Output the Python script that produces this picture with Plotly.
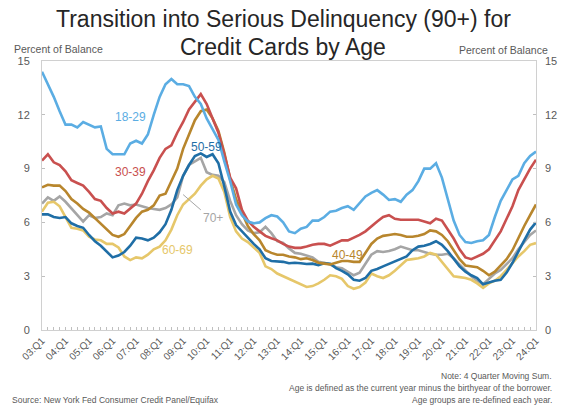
import plotly.graph_objects as go

quarters = [f"{y:02d}:Q{q}" for y in range(3, 24) for q in range(1, 5)] + ["24:Q1"]
tick_labels = [q if q.endswith("Q1") else "" for q in quarters]

age_18_29 = [14.4, 13.7, 13.0, 12.2, 11.45, 11.45, 11.3, 11.6, 11.45, 11.3,
             11.35, 10.1, 9.8, 9.8, 9.8, 10.4, 10.55, 10.4, 10.9, 12.0,
             13.0, 13.7, 14.0, 13.7, 13.7, 13.6, 13.0, 12.6, 11.8, 11.2,
             10.6, 9.4, 8.3, 7.0, 6.4, 6.05, 5.95, 6.0, 6.24, 6.4,
             6.33, 6.0, 5.5, 5.4, 5.65, 5.75, 6.1, 6.1, 6.3, 6.6,
             6.65, 6.8, 6.9, 6.7, 7.1, 7.45, 7.65, 7.8, 7.55, 7.25,
             7.3, 7.15, 7.55, 7.8, 8.3, 9.0, 9.0, 9.3, 8.5, 7.3,
             6.1, 5.3, 4.9, 4.85, 4.95, 5.0, 5.3, 6.3, 7.2, 7.8,
             8.4, 8.6, 9.3, 9.7, 9.95]
age_30_39 = [9.45, 9.8, 9.35, 9.2, 8.85, 8.35, 8.2, 8.05, 7.7, 7.3,
             7.2, 6.8, 6.5, 6.6, 6.5, 6.75, 7.05, 7.6, 8.3, 8.9,
             9.6, 10.1, 10.3, 11.0, 11.6, 12.3, 12.75, 13.15, 12.6, 11.8,
             11.0, 9.8, 8.5, 7.9, 6.7, 6.1, 5.75, 5.5, 5.25, 5.12,
             5.0, 4.8, 4.65, 4.58, 4.58, 4.65, 4.75, 4.8, 4.8, 4.7,
             4.85, 5.0, 5.0, 5.15, 5.3, 5.5, 5.8, 6.05, 6.3, 6.4,
             6.2, 6.15, 6.15, 6.15, 6.15, 6.05, 5.95, 6.2, 6.1, 5.6,
             5.1, 4.5, 4.05, 3.95, 4.1, 4.25, 4.5, 5.0, 5.5, 6.2,
             6.9, 7.8, 8.4, 9.0, 9.5]
age_40_49 = [7.95, 8.1, 8.05, 8.05, 7.75, 7.3, 7.05, 6.75, 6.55, 6.25,
             5.95, 5.65, 5.3, 5.2, 5.35, 5.8, 6.25, 6.6, 6.7, 6.95,
             7.5, 7.6, 8.3, 9.0, 10.1, 10.9, 11.7, 12.2, 12.3, 11.8,
             11.1, 9.9, 8.4, 7.3, 6.5, 5.8, 5.35, 5.0, 4.45, 4.3,
             4.2, 4.2, 4.1, 4.05, 3.95, 4.0, 3.9, 3.75, 3.7, 3.65,
             3.75, 3.85, 3.85, 3.8, 3.8, 4.3, 4.8, 5.1, 5.25, 5.3,
             5.35, 5.3, 5.2, 5.2, 5.25, 5.35, 5.55, 5.5, 5.3, 4.95,
             4.45, 3.95, 3.6, 3.55, 3.5, 3.3, 3.05, 3.25, 3.6, 3.95,
             4.45, 5.15, 5.8, 6.4, 7.0]
age_50_59 = [6.45, 6.45, 6.3, 6.25, 6.3, 5.95, 5.8, 5.7, 5.3, 4.95,
             4.7, 4.35, 4.05, 4.15, 4.35, 4.7, 5.15, 5.1, 5.0, 5.15,
             5.45, 5.9, 6.7, 7.8, 8.6, 9.2, 9.7, 9.85, 9.65, 9.8,
             9.3, 8.0, 6.6, 5.85, 5.5, 5.1, 4.8, 4.5, 4.0, 3.85,
             3.82, 3.8, 3.72, 3.75, 3.72, 3.68, 3.7, 3.62, 3.72, 3.7,
             3.45, 3.3, 3.1, 2.8, 2.75, 2.9, 3.3, 3.4, 3.55, 3.68,
             3.8, 3.95, 4.1, 4.45, 4.65, 4.7, 4.8, 4.95, 4.75, 4.4,
             4.0, 3.55, 3.25, 3.05, 2.9, 2.55, 2.65, 2.75, 2.8, 3.2,
             3.75, 4.4, 5.0, 5.6, 6.0]
age_60_69 = [6.6, 7.1, 7.15, 6.9, 6.3, 5.7, 5.65, 5.55, 5.2, 5.05,
             5.0, 4.8, 4.8, 4.6, 4.1, 3.9, 4.05, 4.0, 4.2, 4.5,
             4.65, 5.0, 5.6, 6.4, 7.0, 7.3, 7.6, 8.05, 8.4, 8.6,
             8.45, 7.7, 6.3, 5.5, 5.1, 4.9, 4.6, 4.3, 3.55, 3.4,
             3.15, 3.0, 2.85, 2.7, 2.55, 2.4, 2.45, 2.6, 2.8, 3.05,
             3.0, 2.85, 2.45, 2.3, 2.4, 2.65, 3.15, 3.0, 2.9, 3.05,
             3.3, 3.6, 3.9, 3.95, 4.0, 4.1, 4.3, 4.2, 3.8, 3.35,
             3.0, 2.95, 2.9, 2.8, 2.6, 2.35, 2.6, 2.75, 3.0, 3.35,
             3.75, 4.1, 4.4, 4.75, 4.85]
age_70_plus = [7.05, 7.4, 7.2, 7.45, 7.15, 6.8, 6.45, 6.05, 6.4, 6.25,
               6.3, 6.5, 6.4, 6.95, 7.05, 6.95, 7.0, 6.9, 6.8, 6.75,
               6.7, 6.8, 7.0, 7.4, 8.6, 9.2, 9.4, 9.6, 8.8, 8.65,
               8.6, 8.25, 7.2, 6.4, 5.9, 5.55, 5.4, 5.45, 5.75, 5.4,
               4.95, 4.85, 4.55, 4.3, 4.25, 4.15, 4.05, 3.8, 3.75, 3.65,
               3.5, 3.45, 3.25, 3.05, 3.2, 3.7, 4.2, 4.4, 4.35, 4.4,
               4.5, 4.65, 4.55, 4.45, 4.45, 4.35, 4.25, 4.2, 4.2, 4.25,
               4.0, 3.65, 3.3, 3.0, 2.75, 2.55, 2.85, 3.15, 3.35, 3.65,
               4.0, 4.5, 4.9, 5.3, 5.55]

series_names = ["18-29", "30-39", "40-49", "50-59", "60-69", "70+"]
series_values = [age_18_29, age_30_39, age_40_49, age_50_59, age_60_69, age_70_plus]
colors = ["#5BADE3", "#C9504F", "#B8862D", "#1F6EA6", "#E6C76A", "#A5A5A5"]
# label anchor positions (quarter, value)
label_pos = [("06:Q4", 11.9), ("06:Q4", 8.8), ("16:Q1", 4.2), ("10:Q1", 10.2), ("08:Q4", 4.45), ("10:Q2", 6.25)]

FONT = "Arial, Liberation Sans, sans-serif"
GRAY = "#595959"

fig = go.Figure()
draw_order = [5, 4, 3, 2, 1, 0]
for k in draw_order:
    fig.add_trace(go.Scatter(x=quarters, y=series_values[k], mode="lines", name=series_names[k],
                             line=dict(color=colors[k], width=2.6), showlegend=False,
                             hoverinfo="skip"))
# dummy trace for right axis
fig.add_trace(go.Scatter(x=quarters[:1], y=[None], yaxis="y2", showlegend=False, hoverinfo="skip"))

for k, (qx, vy) in enumerate(label_pos):
    fig.add_annotation(x=qx, y=vy, text=series_names[k], showarrow=False,
                       font=dict(family=FONT, size=12, color=colors[k]))
# leader line for 70+
fig.add_shape(type="line", x0="09:Q1", y0=7.55, x1="09:Q4", y1=6.7,
              line=dict(color="#A5A5A5", width=1))

axis_common = dict(range=[0, 15], dtick=3, showgrid=False, zeroline=False,
                   ticks="inside", ticklen=3, tickcolor="#BFBFBF",
                   tickfont=dict(family=FONT, size=11, color=GRAY))

fig.update_layout(
    width=569, height=415,
    margin=dict(l=42, r=31, t=61, b=85),
    paper_bgcolor="white", plot_bgcolor="white",
    xaxis=dict(type="category", categoryorder="array", categoryarray=quarters,
               range=[0, len(quarters) - 1], tickmode="array",
               tickvals=quarters, ticktext=tick_labels, tickangle=-45,
               ticks="inside", ticklen=3, tickcolor="#BFBFBF",
               showgrid=False, showline=True, linecolor="#D0D0D0", linewidth=1, mirror=True,
               tickfont=dict(family=FONT, size=10, color=GRAY)),
    yaxis=dict(side="left", showline=True, linecolor="#D0D0D0", linewidth=1, mirror=True,
               ticklabelstandoff=9, **axis_common),
    yaxis2=dict(side="right", overlaying="y", showline=False, ticklabelstandoff=8, **axis_common),
)

# title (two lines)
title_lines = ["Transition into Serious Delinquency (90+) for", "Credit Cards by Age"]
for j, t in enumerate(title_lines):
    fig.add_annotation(text=t, xref="paper", yref="paper", x=0.488, y=1.155 - j * 0.102,
                       xanchor="center", yanchor="middle", showarrow=False,
                       font=dict(family=FONT, size=23, color="#262626"))

fig.add_annotation(text="Percent of Balance", xref="paper", yref="paper", x=-0.0605, y=1.043,
                   xanchor="left", yanchor="middle", showarrow=False,
                   font=dict(family=FONT, size=10.5, color=GRAY))
fig.add_annotation(text="Percent of Balance", xref="paper", yref="paper", x=1.028, y=1.040,
                   xanchor="right", yanchor="middle", showarrow=False,
                   font=dict(family=FONT, size=10.5, color=GRAY))

notes = ["Note: 4 Quarter Moving Sum.",
         "Age is defined as the current year minus the birthyear of the borrower.",
         "Age groups are re-defined each year."]
for j, t in enumerate(notes):
    fig.add_annotation(text=t, xref="paper", yref="paper", x=1.036, y=-0.17 - j * 0.046,
                       xanchor="right", yanchor="middle", showarrow=False,
                       font=dict(family=FONT, size=8.5, color=GRAY))
fig.add_annotation(text="Source: New York Fed Consumer Credit Panel/Equifax", xref="paper", yref="paper",
                   x=-0.0645, y=-0.17 - 2 * 0.046, xanchor="left", yanchor="middle", showarrow=False,
                   font=dict(family=FONT, size=8.5, color=GRAY))

fig.write_html("out.html", config={"displayModeBar": False},
               post_script="document.body.style.margin='0px';")
